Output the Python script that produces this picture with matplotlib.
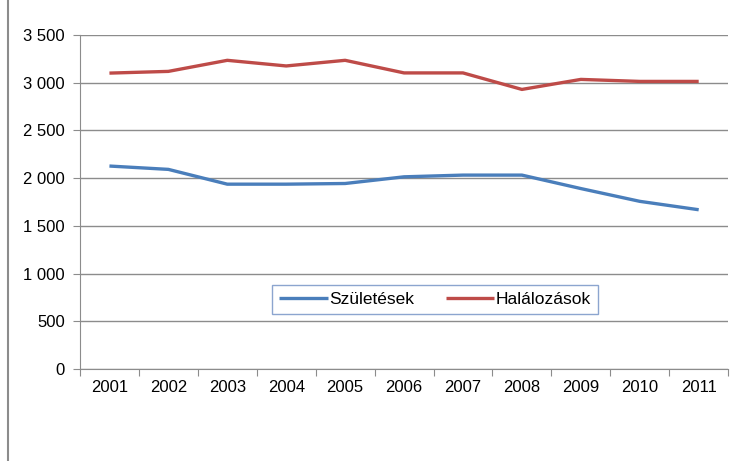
import matplotlib
matplotlib.use('Agg')
import matplotlib.pyplot as plt
from matplotlib.lines import Line2D
from matplotlib.ticker import FuncFormatter

# data
years = ['2001', '2002', '2003', '2004', '2005', '2006', '2007', '2008', '2009', '2010', '2011']
szuletesek = [2127, 2092, 1937, 1937, 1944, 2014, 2032, 2032, 1891, 1757, 1669]
halalozasok = [3101, 3119, 3235, 3176, 3235, 3103, 3103, 2930, 3035, 3014, 3014]
yticks = [0, 500, 1000, 1500, 2000, 2500, 3000, 3500]

plt.rcParams['font.family'] = ['Liberation Sans', 'DejaVu Sans']
plt.rcParams['font.size'] = 12

fig = plt.figure(figsize=(7.37, 4.61), dpi=100)
ax = fig.add_axes([0.1085, 0.1996, 0.8795, 0.7244])

ax.plot(years, szuletesek, color='#4a7ebb', lw=2.4, label='Születések', solid_capstyle='butt')
ax.plot(years, halalozasok, color='#be4b48', lw=2.4, label='Halálozások', solid_capstyle='butt')

n = len(years)
ax.set_xlim(-0.5, n - 0.5)
ax.set_ylim(0, 3500)
ax.set_yticks(yticks)
ax.yaxis.set_major_formatter(FuncFormatter(lambda v, p: f'{v:,.0f}'.replace(',', ' ')))
ax.grid(axis='y', color='#8c8c8c', lw=1)
ax.set_axisbelow(True)

# category ticks sit between the labels
ax.set_xticks([i - 0.5 for i in range(n + 1)])
ax.set_xticklabels([])
ax.set_xticks(range(n), minor=True)
ax.set_xticklabels(years, minor=True)
ax.tick_params(axis='x', which='major', length=5, color='#8c8c8c')
ax.tick_params(axis='x', which='minor', length=0, pad=8)
ax.tick_params(axis='y', length=5, color='#8c8c8c', pad=6)

for s in ['top', 'right']:
    ax.spines[s].set_visible(False)
for s in ['left', 'bottom']:
    ax.spines[s].set_color('#8c8c8c')

leg = ax.legend(loc='center', bbox_to_anchor=(0.548, 0.208), ncol=2, fancybox=False,
                handlelength=2.8, handletextpad=0.1, columnspacing=1.8,
                borderpad=0.4, fontsize=12.5)
leg.get_frame().set_edgecolor('#6f8fc4')
leg.get_frame().set_linewidth(1)

# thin border at the left edge of the picture
fig.add_artist(Line2D([0.011, 0.011], [0, 1], transform=fig.transFigure, color='#8c8c8c', lw=1.5))

fig.savefig('out.png', dpi=100)
